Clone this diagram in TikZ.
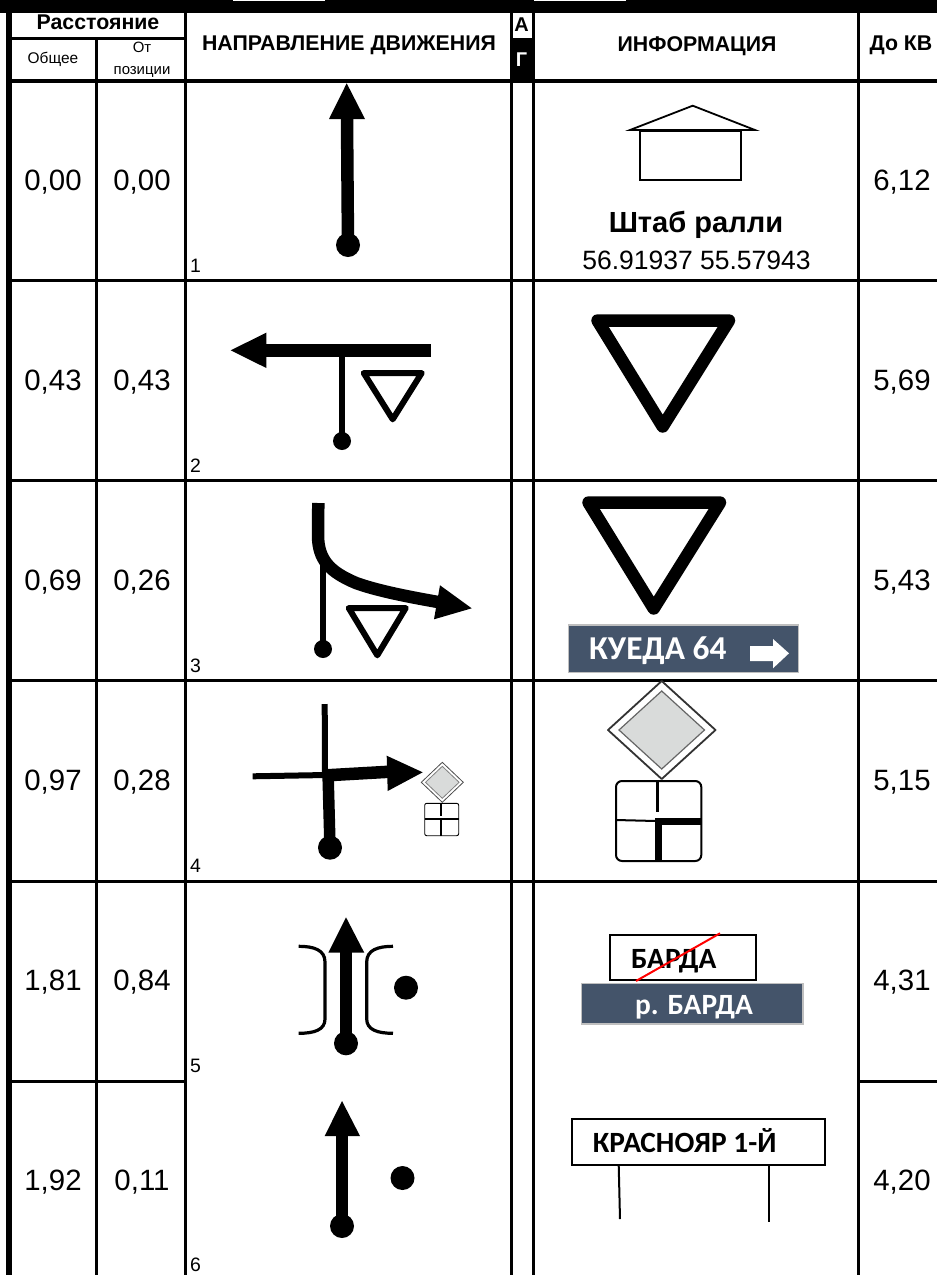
\documentclass[tikz,border=0pt]{standalone}
\usepackage{fontspec}
\setmainfont{Liberation Sans}
\newfontfamily\signfont{Carlito}
\definecolor{signblue}{HTML}{44546A}
\definecolor{prigrey}{HTML}{D9DBDA}
\tikzset{
  x=1bp,y=-1bp,
  cell/.style={inner sep=0pt,anchor=base,font=\fontsize{29.5}{32}\selectfont},
  num/.style={inner sep=0pt,anchor=base west,font=\fontsize{19.5}{22}\selectfont},
  hdr/.style={inner sep=0pt,anchor=base,font=\bfseries\fontsize{21.4}{24}\selectfont},
  sub/.style={inner sep=0pt,anchor=base,font=\fontsize{15.5}{18}\selectfont},
  grid/.style={line width=3bp,black},
  road/.style={line width=12.5bp,black},
  lane/.style={line width=6bp,black},
  head/.style={fill=black,draw=none},
  blob/.style={circle,fill=black,draw=none,inner sep=0pt},
  signbox/.style={draw=black,line width=1.8bp,fill=white},
  bluebox/.style={draw=black!25,line width=1.8bp,fill=signblue},
  signtext/.style={inner sep=0pt,anchor=base west,font=\signfont\bfseries\fontsize{29.5}{32}\selectfont},
}
\begin{document}
\begin{tikzpicture}
\useasboundingbox (0,0) rectangle (937,1275);
\fill[white] (0,0) rectangle (937,1275);
% frame
\fill[black] (0,0) rectangle (937,12.8);
\fill[white] (233,0) rectangle (325,0.8);
\fill[white] (534,0) rectangle (626,0.8);
\fill[black] (6,0) rectangle (11.5,1275);
\fill[black] (511,38) rectangle (533,81);
\fill[black] (6,79) rectangle (937,82.7);
\draw[grid] (9,38.5) -- (185.5,38.5);
\draw[grid] (96.7,38.5) -- (96.7,1275);
\draw[grid] (185.5,13) -- (185.5,1275);
\draw[grid] (511,13) -- (511,1275);
\draw[grid] (533.5,13) -- (533.5,1275);
\draw[grid] (858,13) -- (858,1275);
\foreach \yy in {280,480,680,881}{\draw[grid] (9,\yy) -- (937,\yy);}
\draw[grid] (9,1081) -- (185.5,1081);
\draw[grid] (858,1081) -- (937,1081);
% header
\node[hdr] (hDist) at (98,29.3) {Расстояние};
\node[sub] (hAll) at (53,63.3) {Общее};
\node[sub,font=\fontsize{15}{18}\selectfont] (hFrom) at (142,52) {От};
\node[sub,font=\fontsize{15}{18}\selectfont] (hPos) at (142,74.5) {позиции};
\node[hdr] (hDir) at (349,50.7) {НАПРАВЛЕНИЕ ДВИЖЕНИЯ};
\node[hdr,font=\bfseries\fontsize{20}{24}\selectfont] (hA) at (521.5,31.5) {А};
\node[hdr,font=\bfseries\fontsize{20}{24}\selectfont,text=white] (hG) at (521.5,66) {Г};
\node[hdr] (hInfo) at (697,51) {ИНФОРМАЦИЯ};
\node[hdr] (hKv) at (901,50.7) {До КВ};
% table values
\node[cell] (r1a) at (53,190.5) {0,00}; \node[cell] (r1b) at (142,190.5) {0,00}; \node[cell] (r1c) at (902,190.5) {6,12};
\node[cell] (r2a) at (53,390.5) {0,43}; \node[cell] (r2b) at (142,390.5) {0,43}; \node[cell] (r2c) at (902,390.5) {5,69};
\node[cell] (r3a) at (53,590.5) {0,69}; \node[cell] (r3b) at (142,590.5) {0,26}; \node[cell] (r3c) at (902,590.5) {5,43};
\node[cell] (r4a) at (53,790.5) {0,97}; \node[cell] (r4b) at (142,790.5) {0,28}; \node[cell] (r4c) at (902,790.5) {5,15};
\node[cell] (r5a) at (53,990.5) {1,81}; \node[cell] (r5b) at (142,990.5) {0,84}; \node[cell] (r5c) at (902,990.5) {4,31};
\node[cell] (r6a) at (53,1190.5) {1,92}; \node[cell] (r6b) at (142,1190.5) {0,11}; \node[cell] (r6c) at (902,1190.5) {4,20};
\node[num] (n1) at (190,272.5) {1};
\node[num] (n2) at (190,472.5) {2};
\node[num] (n3) at (190,672) {3};
\node[num] (n4) at (190,872) {4};
\node[num] (n5) at (190,1072.5) {5};
\node[num] (n6) at (190,1271) {6};
% 1
\draw[road] (347,118) -- (348,245);
\fill[head] (346.7,83.3) -- (365,119) -- (329,119) -- cycle;
\node[blob,minimum size=24bp] (d1) at (348,245) {};
% 2
\draw[lane] (342,350) -- (342,441);
\draw[road] (266,350.5) -- (430.7,350.5);
\fill[head] (230.7,350.3) -- (266.3,332.7) -- (266.3,368) -- cycle;
\node[blob,minimum size=18bp] (d2) at (342,441) {};
\draw[line width=6bp,line join=round] (363.7,373) -- (421.7,373) -- (392.7,419.3) -- cycle;
% 3
\draw[lane] (323.3,560) -- (323.3,649);
\draw[road] (318.3,503) -- (318,535) .. controls (318,560) and (330,572) .. (356,583) .. controls (378,591) and (410,597) .. (438,602);
\fill[head] (471.7,608.3) -- (440,585.3) -- (434,619.3) -- cycle;
\node[blob,minimum size=18bp] (d3) at (323,649) {};
\draw[line width=6bp,line join=round] (348.7,608) -- (405.7,608) -- (377.3,655.3) -- cycle;
% 4
\draw[lane] (324.7,704) -- (325,775);
\draw[lane] (252.7,776.3) -- (326,775);
\draw[line width=11.5bp] (328,772) -- (330,847);
\draw[road] (323,775.5) -- (390,771.7);
\fill[head] (422.7,772.3) -- (386.7,755.7) -- (387.7,791) -- cycle;
\node[blob,minimum size=24bp] (d4) at (330,847.7) {};
\draw[black!70,line width=0.8bp,fill=white] (421.3,782.3) -- (442.3,762.3) -- (463.3,782.3) -- (442.3,802.3) -- cycle;
\draw[black!50,line width=0.8bp,fill=prigrey] (425.5,782.3) -- (442.3,766.3) -- (459.1,782.3) -- (442.3,798.3) -- cycle;
\draw[black,line width=0.9bp,rounded corners=2bp,fill=white] (424.7,803.3) rectangle (458.7,835.7);
\draw[line width=1.2bp] (441,803.3) -- (441,816);
\draw[line width=1.1bp] (424.7,819) -- (441,819);
\draw[line width=2.3bp] (441,819) -- (458.7,819);
\draw[line width=2.3bp] (441,818) -- (441,835.7);
% 5
\draw[road] (346,950) -- (346,1043);
\fill[head] (346,917.3) -- (364.3,952.7) -- (328.3,952.7) -- cycle;
\node[blob,minimum size=24bp] (d5) at (346,1043.3) {};
\node[blob,minimum size=24bp] (d5b) at (406,987.7) {};
\draw[line width=3.2bp] (298.7,946.3) .. controls (314,946.3) and (325,950) .. (325,962) -- (325,1019) .. controls (325,1030) and (314,1033.3) .. (298.7,1033.3);
\draw[line width=3.2bp] (393,946.3) .. controls (378,946.3) and (366.7,950) .. (366.7,962) -- (366.7,1019) .. controls (366.7,1030) and (378,1033.3) .. (393,1033.3);
% 6
\draw[road] (342,1135) -- (342,1226);
\fill[head] (342,1101) -- (360,1136) -- (324.7,1136) -- cycle;
\node[blob,minimum size=24bp] (d6) at (342,1226) {};
\node[blob,minimum size=24bp] (d6b) at (402.5,1178) {};
% info 1
\draw[line width=2bp] (640,130.7) rectangle (741,180.3);
\draw[line width=1.8bp,fill=white] (692.7,105.7) -- (630,130) -- (755,130) -- cycle;
\node[inner sep=0pt,anchor=base,font=\bfseries\fontsize{29.2}{32}\selectfont] (t1) at (696,232.7) {Штаб ралли};
\node[inner sep=0pt,anchor=base,font=\fontsize{26.6}{30}\selectfont] (t2) at (696.5,269.3) {56.91937 55.57943};
% info 2
\draw[line width=12.5bp,line join=round] (597.5,320.5) -- (729,320.5) -- (662.7,426.5) -- cycle;
% info 3
\draw[line width=12.5bp,line join=round] (588.5,502.5) -- (720,502.5) -- (653.7,608.5) -- cycle;
\draw[bluebox] (568.5,624.8) rectangle (798.5,672.5);
\node[signtext,text=white,font=\signfont\bfseries\fontsize{33.5}{36}\selectfont] (s3) at (589,659.3) {КУЕДА 64};
\fill[white] (750,646) -- (773,646) -- (773,639) -- (789,653.3) -- (773,668.3) -- (773,661) -- (750,661) -- cycle;
% info 4
\draw[black!80,line width=1.8bp,fill=white,line join=round] (608,730) -- (661.7,681) -- (715.5,730) -- (661.7,779) -- cycle;
\draw[black!60,line width=1.2bp,fill=prigrey] (619,730) -- (661.7,691) -- (704.5,730) -- (661.7,769) -- cycle;
\draw[line width=2bp,rounded corners=6bp,fill=white] (616,781) rectangle (701.3,861);
\draw[line width=3.5bp] (657.7,781) -- (657.7,812);
\draw[line width=2bp] (616,820) -- (656,821);
\draw[line width=7bp] (655,821.3) -- (701.3,821.3);
\draw[line width=7bp] (658.3,818) -- (658.3,861);
% info 5
\draw[signbox] (610.3,934.7) rectangle (755.7,980.3);
\node[signtext] (s5) at (631,968.3) {БАРДА};
\draw[red,line width=2bp] (636,981) -- (720,933.3);
\draw[bluebox] (581.5,983.5) rectangle (803,1024);
\node[signtext,text=white] (s5b) at (635,1014) {р. БАРДА};
% info 6
\draw[line width=2bp] (618.7,1164.7) -- (620,1219);
\draw[line width=2bp] (769.3,1164.7) -- (769.3,1221.7);
\draw[signbox] (572.3,1119.3) rectangle (824.7,1164.7);
\node[signtext] (s6) at (592.7,1152) {КРАСНОЯР 1-Й};
\end{tikzpicture}
\end{document}
